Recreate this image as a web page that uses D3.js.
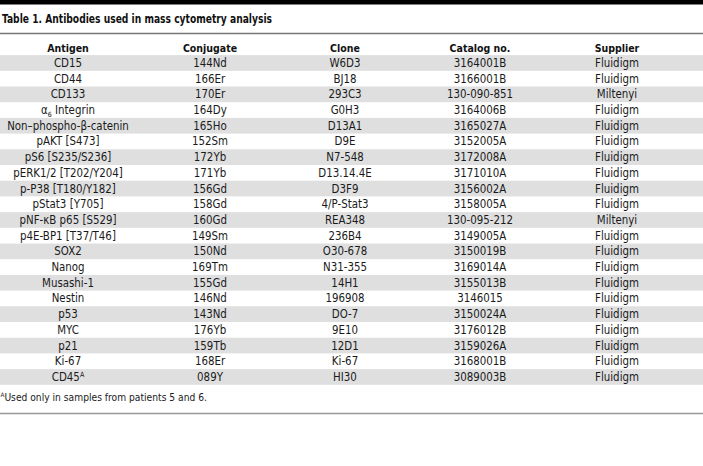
<!DOCTYPE html>
<html>
<head>
<meta charset="utf-8">
<script src="https://cdn.jsdelivr.net/npm/d3@7"></script>
<style>
  html, body { margin: 0; padding: 0; background: #fff; }
  svg { display: block; }
</style>
</head>
<body>
<svg id="chart" width="703" height="466"></svg>
<script>
const title = "Table 1. Antibodies used in mass cytometry analysis";
const headers = ["Antigen", "Conjugate", "Clone", "Catalog no.", "Supplier"];
// "_x" = subscript, "^x" = superscript
const antigens = ["CD15", "CD44", "CD133", "α_6 Integrin", "Non–phospho-β-catenin", "pAKT [S473]",
  "pS6 [S235/S236]", "pERK1/2 [T202/Y204]", "p-P38 [T180/Y182]", "pStat3 [Y705]", "pNF-κB p65 [S529]",
  "p4E-BP1 [T37/T46]", "SOX2", "Nanog", "Musashi-1", "Nestin", "p53", "MYC", "p21", "Ki-67", "CD45^A"];
const conjugates = ["144Nd", "166Er", "170Er", "164Dy", "165Ho", "152Sm", "172Yb", "171Yb", "156Gd", "158Gd",
  "160Gd", "149Sm", "150Nd", "169Tm", "155Gd", "146Nd", "143Nd", "176Yb", "159Tb", "168Er", "089Y"];
const clones = ["W6D3", "BJ18", "293C3", "G0H3", "D13A1", "D9E", "N7-548", "D13.14.4E", "D3F9", "4/P-Stat3",
  "REA348", "236B4", "O30-678", "N31-355", "14H1", "196908", "DO-7", "9E10", "12D1", "Ki-67", "HI30"];
const catalogNos = ["3164001B", "3166001B", "130-090-851", "3164006B", "3165027A", "3152005A", "3172008A",
  "3171010A", "3156002A", "3158005A", "130-095-212", "3149005A", "3150019B", "3169014A", "3155013B",
  "3146015", "3150024A", "3176012B", "3159026A", "3168001B", "3089003B"];
const suppliers = ["Fluidigm", "Fluidigm", "Miltenyi", "Fluidigm", "Fluidigm", "Fluidigm", "Fluidigm",
  "Fluidigm", "Fluidigm", "Fluidigm", "Miltenyi", "Fluidigm", "Fluidigm", "Fluidigm", "Fluidigm",
  "Fluidigm", "Fluidigm", "Fluidigm", "Fluidigm", "Fluidigm", "Fluidigm"];
const footnote = "^AUsed only in samples from patients 5 and 6.";

const rows = antigens.map((a, i) => [a, conjugates[i], clones[i], catalogNos[i], suppliers[i]]);

const W = 703;
const FONT = "'DejaVu Sans Condensed', 'Liberation Sans Narrow', 'Roboto', sans-serif";
const svg = d3.select("#chart");

const x = d3.scaleOrdinal().domain(headers).range([68, 210, 345, 480, 617]);
const y = d3.scaleBand().domain(d3.range(rows.length)).range([55.1, 55.1 + 15.7 * rows.length]);

// rich text helper: supports _x subscript and ^x superscript
function rich(sel, str) {
  const parts = str.split(/(_.|\^.)/).filter(s => s.length);
  let shift = 0;
  parts.forEach(p => {
    if (p[0] === "_") {
      sel.append("tspan").attr("font-size", "0.62em").attr("dy", "3").text(p.slice(1));
      shift = 3;
    } else if (p[0] === "^") {
      sel.append("tspan").attr("font-size", "0.62em").attr("dy", "-4").text(p.slice(1));
      shift = -4;
    } else {
      sel.append("tspan").attr("dy", -shift).text(p);
      shift = 0;
    }
  });
}

// top black bar
svg.append("rect").attr("x", 0).attr("y", 0).attr("width", W).attr("height", 4.5).attr("fill", "#000");

// title
svg.append("text").attr("x", 2).attr("y", 22.5)
  .attr("font-family", FONT).attr("font-weight", "bold").attr("font-size", 13).attr("fill", "#111")
  .attr("textLength", 270).attr("lengthAdjust", "spacingAndGlyphs")
  .text(title);

svg.append("line").attr("x1", 0).attr("x2", W).attr("y1", 33.5).attr("y2", 33.5)
  .attr("stroke", "#777").attr("stroke-width", 1.3);

// header
svg.append("g").selectAll("text").data(headers).join("text")
  .attr("x", d => x(d)).attr("y", 52)
  .attr("text-anchor", "middle").attr("font-family", FONT).attr("font-weight", "bold")
  .attr("font-size", 10.5).attr("fill", "#111").text(d => d);

// row stripes
svg.append("g").selectAll("rect").data(rows.map((r, i) => i).filter(i => i % 2 === 0)).join("rect")
  .attr("x", 0).attr("width", W).attr("y", i => y(i)).attr("height", y.bandwidth())
  .attr("fill", "#dfdfe0");

// cells
const rowG = svg.append("g").selectAll("g").data(rows).join("g")
  .attr("transform", (d, i) => `translate(0,${y(i) + y.bandwidth() / 2 + 4})`);
rowG.selectAll("text").data(d => d.map((v, j) => ({ v, col: headers[j] }))).join("text")
  .attr("x", d => x(d.col)).attr("y", 0)
  .attr("text-anchor", "middle").attr("font-family", FONT).attr("font-size", 11.4).attr("fill", "#1a1a1a")
  .each(function (d) { rich(d3.select(this), d.v); });

// footnote
const fn = svg.append("text").attr("x", 0.5).attr("y", 401)
  .attr("font-family", FONT).attr("font-size", 10.2).attr("fill", "#1a1a1a");
rich(fn, footnote);

svg.append("line").attr("x1", 0).attr("x2", W).attr("y1", 413.5).attr("y2", 413.5)
  .attr("stroke", "#999").attr("stroke-width", 1.3);
</script>
</body>
</html>
